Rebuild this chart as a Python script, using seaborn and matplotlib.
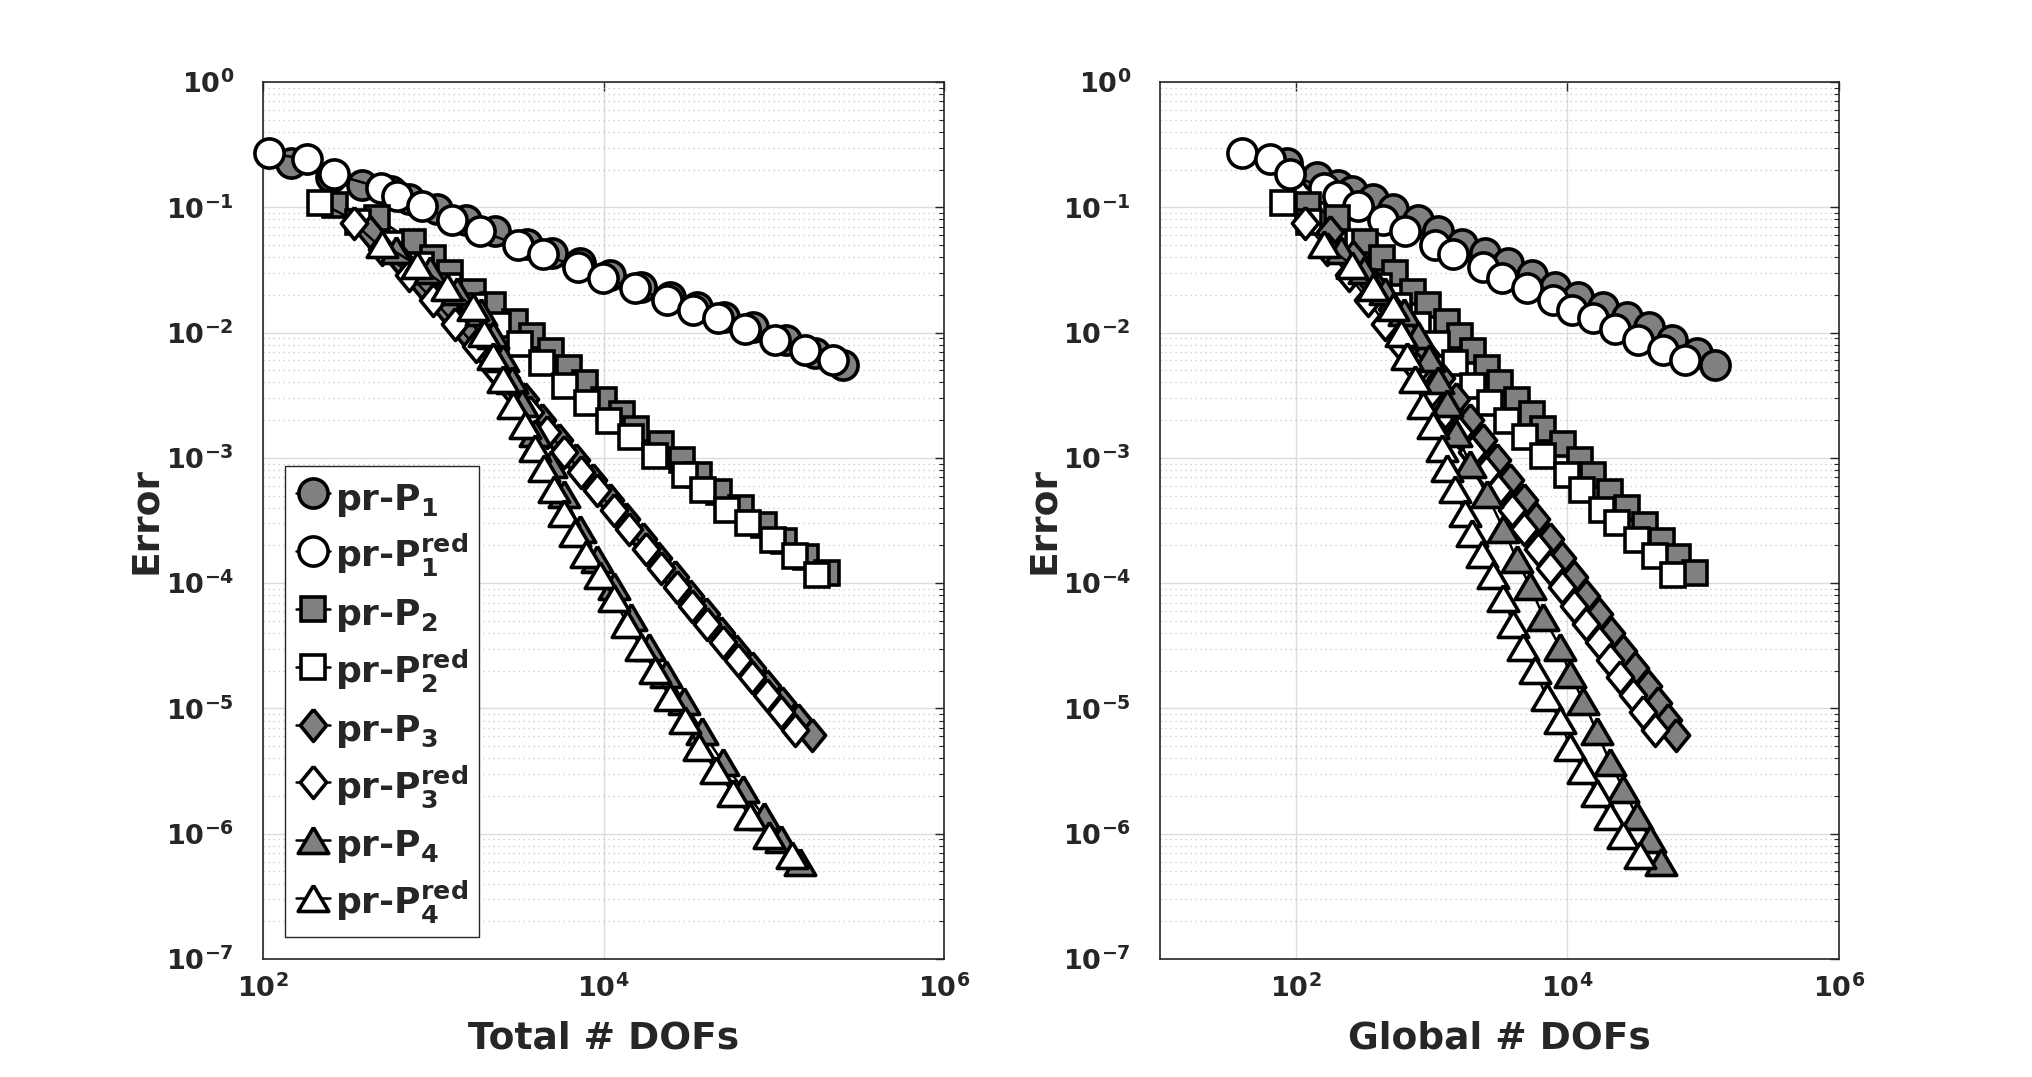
import matplotlib
matplotlib.use("Agg")
import matplotlib.pyplot as plt
import seaborn as sns
from matplotlib.lines import Line2D
from matplotlib.ticker import FixedLocator, FixedFormatter, LogLocator, NullLocator, NullFormatter

# ---------------- data ----------------
# errors (shared by both panels)
err_p1 = [0.224, 0.174, 0.151, 0.135, 0.116, 0.0977, 0.0794, 0.0646, 0.0513, 0.0430,
          0.0357, 0.0288, 0.0232, 0.0194, 0.0161, 0.0134, 0.0110, 0.00871, 0.00692, 0.00556]
err_p1red = [0.270, 0.242, 0.184, 0.143, 0.123, 0.103, 0.0793, 0.0649, 0.0500, 0.0423,
             0.0331, 0.0275, 0.0225, 0.0182, 0.0151, 0.0130, 0.0107, 0.00879, 0.00721, 0.00603]
err_p2 = [0.1042, 0.0817, 0.0532, 0.0392, 0.0297, 0.0212, 0.0166, 0.0122, 0.00933, 0.00708,
          0.00525, 0.00398, 0.00288, 0.00224, 0.00169, 0.00128, 9.64e-4, 7.24e-4, 5.37e-4,
          3.98e-4, 2.92e-4, 2.16e-4, 1.62e-4, 1.21e-4]
err_p2red = [0.1089, 0.0759, 0.0513, 0.0347, 0.0234, 0.0162, 0.0115, 0.00813, 0.00575, 0.00374,
             0.00275, 0.00198, 0.00147, 0.00104, 7.28e-4, 5.50e-4, 3.86e-4, 3.02e-4, 2.20e-4,
             1.66e-4, 1.17e-4]
err_p3 = [0.0631, 0.0398, 0.0245, 0.0155, 0.0100, 6.607e-3, 4.365e-3, 2.951e-3, 1.995e-3,
          1.380e-3, 9.550e-4, 6.607e-4, 4.571e-4, 3.236e-4, 2.239e-4, 1.585e-4, 1.122e-4,
          7.943e-5, 5.623e-5, 3.981e-5, 2.884e-5, 2.089e-5, 1.514e-5, 1.096e-5, 8.128e-6, 6.15e-6]
err_p3red = [0.0745, 0.0468, 0.0288, 0.0182, 0.0117, 7.762e-3, 5.129e-3, 3.467e-3, 2.344e-3,
             1.622e-3, 1.122e-3, 7.762e-4, 5.495e-4, 3.802e-4, 2.692e-4, 1.862e-4, 1.318e-4,
             9.333e-5, 6.607e-5, 4.677e-5, 3.388e-5, 2.455e-5, 1.778e-5, 1.288e-5, 9.333e-6, 6.73e-6]
err_p4 = [0.0457, 0.0316, 0.0214, 0.0145, 9.550e-3, 6.310e-3, 4.169e-3, 2.754e-3, 1.585e-3,
          8.99e-4, 5.12e-4, 2.72e-4, 1.549e-4, 9.46e-5, 5.40e-5, 3.08e-5, 1.88e-5, 1.148e-5,
          6.55e-6, 3.72e-6, 2.28e-6, 1.39e-6, 9.14e-7, 6.00e-7]
err_p4red = [0.0513, 0.0347, 0.0232, 0.0161, 0.0100, 6.457e-3, 4.266e-3, 2.630e-3, 1.820e-3,
             1.202e-3, 8.318e-4, 5.623e-4, 3.61e-4, 2.512e-4, 1.698e-4, 1.169e-4, 7.67e-5,
             4.69e-5, 3.08e-5, 2.01e-5, 1.23e-5, 8.07e-6, 4.94e-6, 3.236e-6, 2.12e-6, 1.39e-6,
             9.79e-7, 6.78e-7]

# total number of DOFs (left panel)
tot_p1 = [147, 251, 380, 562, 724, 1047, 1549, 2291, 3548, 5012, 7244, 10960, 16600, 24550,
          35480, 51290, 75860, 117500, 173800, 256400]
tot_p1red = [108, 182, 261, 493, 610, 863, 1294, 1884, 3162, 4426, 7112, 9977, 15310, 23500,
             33650, 47200, 67760, 101600, 152800, 223900]
tot_p2 = [265, 468, 759, 1000, 1259, 1718, 2239, 3020, 3802, 4898, 6310, 7762, 10000, 12880,
          15490, 21880, 28840, 36310, 47860, 64570, 87100, 114800, 154900, 204600]
tot_p2red = [216, 363, 562, 851, 1230, 1738, 2399, 3236, 4365, 5943, 7962, 10810, 14520, 20090,
             30130, 38550, 52970, 70960, 99540, 133400, 180300]
tot_p3 = [425, 617, 871, 1202, 1585, 2089, 2692, 3467, 4365, 5495, 6918, 8710, 10960, 13490,
          16980, 20890, 26300, 32360, 39810, 48980, 60260, 74130, 91200, 112200, 138000, 167100]
tot_p3red = [344, 501, 724, 1000, 1349, 1778, 2291, 2951, 3715, 4677, 5888, 7413, 9120, 11480,
             14130, 17780, 21880, 26920, 33110, 40740, 50120, 61660, 74130, 91200, 109600, 133400]
tot_p4 = [603, 955, 1380, 1905, 2239, 2570, 2884, 3311, 3981, 4898, 5888, 7244, 9120, 11480,
          14450, 18620, 23440, 29510, 38020, 50120, 66070, 87100, 109600, 142600]
tot_p4red = [498, 800, 1199, 1718, 1995, 2239, 2570, 2951, 3467, 3981, 4467, 5129, 5888, 6761,
             7943, 9550, 11480, 13800, 16600, 19950, 24550, 30200, 36310, 45710, 57540, 72440,
             93330, 127400]

# global number of DOFs (right panel)
glob_p1 = [85.7, 143, 206, 258, 372, 522, 798, 1122, 1667, 2472, 3673, 5458, 8110, 12020,
           18370, 27350, 39810, 58880, 89540, 122200]
glob_p1red = [40.0, 64.6, 90.6, 160, 206, 288, 441, 637, 1059, 1445, 2404, 3281, 5012, 7870,
              10740, 15520, 22440, 33340, 50820, 73450]
glob_p2 = [124, 200, 324, 429, 537, 733, 946, 1291, 1618, 2028, 2547, 3192, 4236, 5458, 6653,
           9333, 12390, 15520, 20610, 27350, 37240, 49430, 65610, 87100]
glob_p2red = [80.9, 126, 191, 282, 407, 575, 794, 1096, 1479, 2028, 2692, 3573, 4875, 6653,
              9886, 12740, 17860, 23070, 32360, 44160, 60260]
glob_p3 = [178, 263, 372, 513, 692, 912, 1175, 1514, 1905, 2399, 3020, 3802, 4786, 5888, 7413,
           9120, 11220, 13800, 16980, 20890, 25700, 31620, 38900, 46770, 54950, 63100]
glob_p3red = [117, 170, 245, 339, 457, 603, 776, 1000, 1259, 1585, 1995, 2512, 3090, 3890, 4786,
              6026, 7413, 9120, 11220, 13800, 16980, 20420, 24550, 30200, 36310, 44160]
glob_p4 = [214, 316, 457, 631, 794, 955, 1122, 1288, 1514, 1919, 2547, 3373, 4236, 5309, 6653,
           8831, 10450, 13090, 16440, 20610, 25820, 32360, 40550, 48980]
glob_p4red = [160, 258, 372, 522, 596, 664, 753, 869, 1028, 1186, 1288, 1479, 1762, 1995, 2344,
              2844, 3373, 4000, 4732, 5768, 7047, 8831, 10450, 13090, 16440, 20610, 25820, 34280]

labels = [r"pr-$\mathbf{P}_{\mathbf{1}}$", r"pr-$\mathbf{P}_{\mathbf{1}}^{\mathbf{red}}$",
          r"pr-$\mathbf{P}_{\mathbf{2}}$", r"pr-$\mathbf{P}_{\mathbf{2}}^{\mathbf{red}}$",
          r"pr-$\mathbf{P}_{\mathbf{3}}$", r"pr-$\mathbf{P}_{\mathbf{3}}^{\mathbf{red}}$",
          r"pr-$\mathbf{P}_{\mathbf{4}}$", r"pr-$\mathbf{P}_{\mathbf{4}}^{\mathbf{red}}$"]
errors = [err_p1, err_p1red, err_p2, err_p2red, err_p3, err_p3red, err_p4, err_p4red]
total_dofs = [tot_p1, tot_p1red, tot_p2, tot_p2red, tot_p3, tot_p3red, tot_p4, tot_p4red]
global_dofs = [glob_p1, glob_p1red, glob_p2, glob_p2red, glob_p3, glob_p3red, glob_p4, glob_p4red]

y_ticks = [1e0, 1e-1, 1e-2, 1e-3, 1e-4, 1e-5, 1e-6, 1e-7]
y_tick_labels = [r"$\mathbf{10^{0}}$", r"$\mathbf{10^{-1}}$", r"$\mathbf{10^{-2}}$",
                 r"$\mathbf{10^{-3}}$", r"$\mathbf{10^{-4}}$", r"$\mathbf{10^{-5}}$",
                 r"$\mathbf{10^{-6}}$", r"$\mathbf{10^{-7}}$"]
x_ticks = [1e2, 1e4, 1e6]
x_tick_labels = [r"$\mathbf{10^{2}}$", r"$\mathbf{10^{4}}$", r"$\mathbf{10^{6}}$"]

# ---------------- styles ----------------
GRAY = "#808080"
TXT = "#262626"
diamond = [(0, 1), (0.82, 0), (0, -1), (-0.82, 0), (0, 1)]
triangle = [(0, 0.85), (1, -0.85), (-1, -0.85), (0, 0.85)]
markers = ["o", "o", "s", "s", diamond, diamond, triangle, triangle]
msizes = [21, 21, 17, 17, 23, 23, 22, 22]
faces = [GRAY, "white"] * 4
MEW = 2.6

sns.set_theme(style="white")
plt.rcParams["font.family"] = ["DejaVu Sans"]
plt.rcParams["mathtext.fontset"] = "dejavusans"
plt.rcParams["font.weight"] = "bold"

fig = plt.figure(figsize=(20.33, 10.77), dpi=100)
fig.patch.set_facecolor("white")
ax1 = fig.add_axes([263 / 2033, 1 - 959 / 1077, 681 / 2033, 877 / 1077])
ax2 = fig.add_axes([1160 / 2033, 1 - 959 / 1077, 679 / 2033, 877 / 1077])

for ax, xs, xlim, xlabel in [(ax1, total_dofs, (1e2, 1e6), "Total # DOFs"),
                             (ax2, global_dofs, (1e1, 1e6), "Global # DOFs")]:
    ax.set_xscale("log")
    ax.set_yscale("log")
    for i in range(8):
        sns.lineplot(x=xs[i], y=errors[i], ax=ax, sort=False, estimator=None, legend=False,
                     color="black", linewidth=1.8, marker=markers[i], markersize=msizes[i],
                     markerfacecolor=faces[i], markeredgecolor="black", markeredgewidth=MEW,
                     clip_on=False, zorder=3 + i * 0.01)
    ax.set_xlim(*xlim)
    ax.set_ylim(1e-7, 1e0)
    ax.set_facecolor("white")
    ax.xaxis.set_major_locator(FixedLocator(x_ticks))
    ax.xaxis.set_major_formatter(FixedFormatter(x_tick_labels))
    ax.xaxis.set_minor_locator(NullLocator())
    ax.yaxis.set_major_locator(FixedLocator(y_ticks))
    ax.yaxis.set_major_formatter(FixedFormatter(y_tick_labels))
    ax.yaxis.set_minor_locator(LogLocator(base=10, subs=[2, 3, 4, 5, 6, 7, 8, 9], numticks=50))
    ax.yaxis.set_minor_formatter(NullFormatter())
    ax.set_axisbelow(True)
    ax.grid(True, which="major", color="#dcdcdc", linewidth=1.0, linestyle="-")
    ax.grid(True, which="minor", axis="y", color="#c4c4c4", linewidth=0.9, linestyle=(0, (1, 3)))
    ax.tick_params(which="both", direction="in", top=True, right=True, colors=TXT)
    ax.tick_params(which="major", length=6.5, width=1.0)
    ax.tick_params(which="minor", length=3.5, width=0.8)
    ax.tick_params(axis="y", which="major", pad=21, labelsize=19.5)
    ax.tick_params(axis="x", which="major", pad=11, labelsize=19.5)
    for sp in ax.spines.values():
        sp.set_color(TXT)
        sp.set_linewidth(1.2)
        sp.set_visible(True)
    ax.set_xlabel(xlabel, fontsize=27, fontweight="bold", color=TXT)
    ax.set_ylabel("Error", fontsize=27, fontweight="bold", color=TXT)
    ax.xaxis.set_label_coords(0.5, -0.07)
    ax.yaxis.set_label_coords(-0.145, 0.5)

handles = [Line2D([0], [0], color="black", linewidth=1.8, marker=markers[i], markersize=msizes[i],
                  markerfacecolor=faces[i], markeredgecolor="black", markeredgewidth=MEW)
           for i in range(8)]
leg = ax1.legend(handles, labels, loc="lower left", bbox_to_anchor=(0.032, 0.025),
                 borderaxespad=0, frameon=True, fancybox=False, framealpha=1,
                 edgecolor="#262626", prop={"weight": "bold", "size": 26},
                 handlelength=0.95, handletextpad=0.15, borderpad=0.3, handleheight=1.35,
                 labelspacing=0.38, markerscale=1.0)
leg.get_frame().set_linewidth(1.0)
leg.set_zorder(10)

fig.savefig("out.png", dpi=100, facecolor="white")
